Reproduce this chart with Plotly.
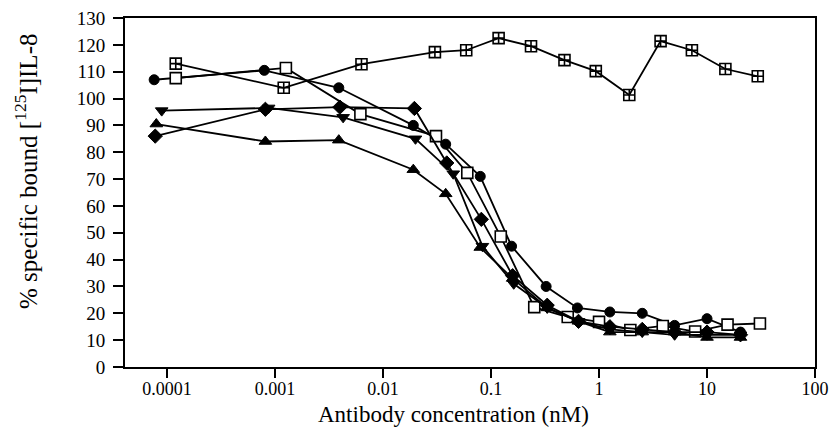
import plotly.graph_objects as go

# log10 of antibody concentration (nM) and % specific bound, per series
circle_logx = [-4.12, -3.10, -2.41, -1.72, -1.42, -1.10, -0.81, -0.49, -0.20, 0.10, 0.40, 0.70, 1.00, 1.31]
circle_y = [107, 110.5, 104, 90, 83, 71, 45, 30, 22, 20.5, 20, 15.5, 18, 13]

square_logx = [-3.92, -2.90, -2.21, -1.51, -1.22, -0.91, -0.60, -0.29, 0.00, 0.29, 0.59, 0.89, 1.19, 1.49]
square_y = [107.6, 111.4, 94.2, 86, 72.3, 48.6, 22.3, 18.6, 16.8, 13.8, 15.3, 13.2, 15.8, 16.2]

xsquare_logx = [-3.92, -2.92, -2.20, -1.52, -1.23, -0.93, -0.63, -0.32, -0.03, 0.28, 0.57, 0.86, 1.17, 1.47]
xsquare_y = [113, 104, 112.8, 117.3, 118, 122.5, 119.5, 114.3, 110.2, 101.3, 121.4, 118, 111, 108.3]

diamond_logx = [-4.11, -3.09, -2.40, -1.71, -1.41, -1.09, -0.80, -0.48, -0.19, 0.10, 0.40, 0.70, 1.00, 1.31]
diamond_y = [86, 96, 96.8, 96.3, 76, 55, 34, 23, 17, 15, 14, 13, 13, 12]

tdown_logx = [-4.05, -3.06, -2.37, -1.70, -1.35, -1.08, -0.79, -0.48, -0.19, 0.10, 0.40, 0.70, 1.00, 1.31]
tdown_y = [95.5, 96.5, 93, 85, 72, 45, 31, 22, 17, 14, 13, 12, 12, 12]

tup_logx = [-4.10, -3.09, -2.41, -1.72, -1.42, -1.10, -0.80, -0.48, -0.19, 0.10, 0.40, 0.70, 1.00, 1.31]
tup_y = [90.5, 84, 84.5, 73.5, 64.5, 44.5, 33, 22, 17, 13, 13, 13, 11, 11]

x_tickvals = [0.0001, 0.001, 0.01, 0.1, 1, 10, 100]
x_ticktext = ["0.0001", "0.001", "0.01", "0.1", "1", "10", "100"]
y_tickvals = list(range(0, 131, 10))

x_title = "Antibody concentration (nM)"
y_title = "% specific bound [<sup>125</sup>I]IL-8"

series = [
    (xsquare_logx, xsquare_y, "square-cross-open", 11),
    (circle_logx, circle_y, "circle", 10),
    (square_logx, square_y, "square", 11),
    (diamond_logx, diamond_y, "diamond", 11),
    (tdown_logx, tdown_y, "triangle-down", 11),
    (tup_logx, tup_y, "triangle-up", 11),
]

fig = go.Figure()
for lx, ys, sym, sz in series:
    xs = [10 ** v for v in lx]
    if sym == "square":
        marker = dict(symbol="square", size=sz, color="white", line=dict(color="black", width=1.6))
    elif sym == "square-cross-open":
        marker = dict(symbol=sym, size=sz, color="black", line=dict(color="black", width=1.6))
    else:
        marker = dict(symbol=sym, size=sz, color="black", line=dict(color="black", width=1))
    fig.add_trace(go.Scatter(x=xs, y=ys, mode="lines+markers",
                             line=dict(color="black", width=1.8),
                             marker=marker, showlegend=False))

font = "Liberation Serif, Times New Roman, serif"
L, R, T, B = 125, 16, 18, 68
fig.update_layout(
    width=831, height=435,
    margin=dict(l=L, r=R, t=T, b=B, autoexpand=False),
    paper_bgcolor="white", plot_bgcolor="white",
    font=dict(family=font, size=18, color="black"),
    showlegend=False,
)
fig.update_xaxes(
    type="log", range=[-4.39, 2],
    tickvals=x_tickvals, ticktext=x_ticktext,
    ticks="outside", ticklen=9, tickwidth=1.5, tickcolor="black",
    showline=True, linecolor="black", linewidth=1.8, mirror=True,
    showgrid=False, zeroline=False, automargin=False,
    ticklabelstandoff=-5,
)
fig.update_yaxes(
    range=[0, 130], tickvals=y_tickvals,
    ticks="outside", ticklen=10, tickwidth=1.5, tickcolor="black",
    showline=True, linecolor="black", linewidth=1.8, mirror=True,
    showgrid=False, zeroline=False, automargin=False,
    ticklabelstandoff=4, tickfont=dict(size=19),
)
plot_w = 831 - L - R
plot_h = 435 - T - B
fig.add_annotation(text=x_title, xref="paper", yref="paper",
                   x=(453 - L) / plot_w, y=(367 - 414) / plot_h,
                   xanchor="center", yanchor="middle", showarrow=False,
                   font=dict(size=23))
fig.add_annotation(text=y_title, xref="paper", yref="paper",
                   x=(26 - L) / plot_w, y=(367 - 172) / plot_h,
                   xanchor="center", yanchor="middle", showarrow=False,
                   textangle=-90, font=dict(size=25))
fig.write_html("out.html", config={"displayModeBar": False},
               post_script="document.body.style.margin='0px';")
